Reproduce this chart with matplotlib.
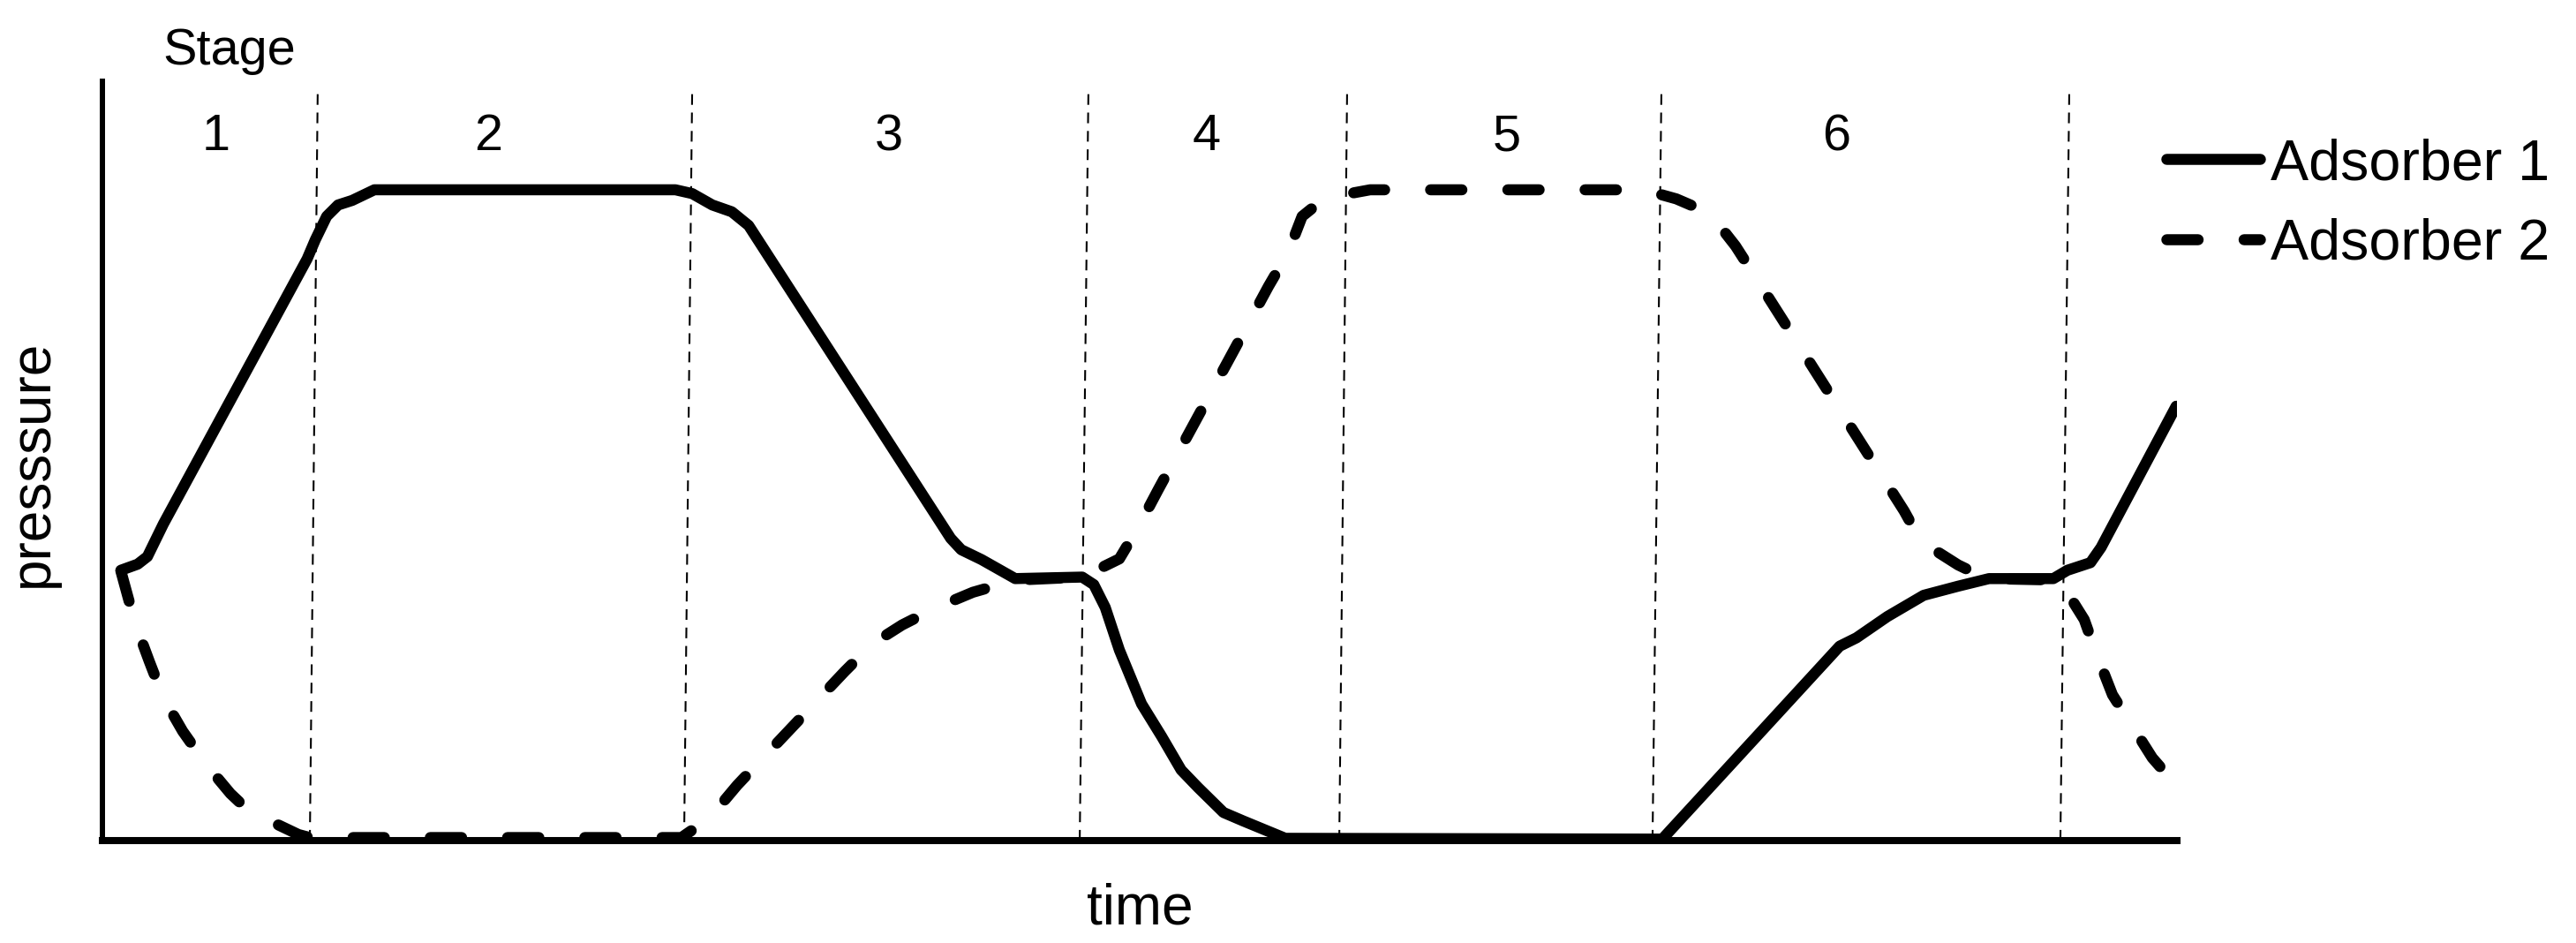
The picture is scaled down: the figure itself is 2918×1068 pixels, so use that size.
import matplotlib
matplotlib.use('Agg')
import matplotlib.pyplot as plt

plt.rcParams['font.family'] = ['Liberation Sans', 'DejaVu Sans']

# Pressure swing cycle, time and pressure in arbitrary units (0-100, 0-1)
time_ads1 = [0.89, 1.70, 2.17, 2.94, 9.87, 10.26, 10.81, 11.36, 12.04, 13.11,
             27.62, 28.43, 29.40, 30.34, 31.15, 40.89, 41.40, 42.38, 44.00, 47.23,
             47.79, 48.34, 49.02, 50.09, 51.06, 52.00, 52.81, 54.04, 54.98, 57.02,
             74.81, 75.19, 83.74, 84.55, 86.04, 87.79, 89.45, 90.94, 94.04, 94.72,
             95.83, 96.34, 99.96]
press_ads1 = [0.356, 0.364, 0.374, 0.417, 0.766, 0.791, 0.822, 0.837, 0.843, 0.857,
              0.857, 0.852, 0.837, 0.828, 0.810, 0.398, 0.383, 0.370, 0.345, 0.347,
              0.337, 0.307, 0.251, 0.180, 0.137, 0.093, 0.070, 0.037, 0.026, 0.003,
              0.002, 0.002, 0.256, 0.267, 0.295, 0.323, 0.335, 0.345, 0.345, 0.356,
              0.366, 0.386, 0.572]

time_ads2 = [0.89, 1.57, 2.26, 2.94, 3.87, 4.98, 6.17, 7.02, 7.53, 9.45,
             10.00, 27.91, 29.28, 30.60, 33.06, 35.79, 37.11, 38.55, 40.21, 41.96,
             44.00, 47.23, 49.02, 49.96, 50.89, 52.68, 54.43, 56.21, 57.15, 57.83,
             58.51, 59.32, 61.11, 74.30, 75.87, 77.49, 78.72, 79.66, 86.85, 87.66,
             89.45, 90.81, 94.34, 95.53, 96.09, 96.89, 97.70, 98.81, 99.96]
press_ads2 = [0.355, 0.287, 0.236, 0.188, 0.144, 0.101, 0.062, 0.040, 0.033, 0.008,
              0.004, 0.004, 0.030, 0.073, 0.144, 0.223, 0.259, 0.284, 0.307, 0.327,
              0.343, 0.347, 0.371, 0.414, 0.462, 0.552, 0.640, 0.730, 0.774, 0.822,
              0.837, 0.848, 0.857, 0.857, 0.845, 0.826, 0.783, 0.743, 0.434, 0.394,
              0.363, 0.345, 0.343, 0.291, 0.248, 0.192, 0.157, 0.109, 0.073]

# stage boundaries (slightly slanted in the original drawing)
bound_bottom = [10.00, 28.04, 47.11, 59.62, 74.72, 94.38]
bound_top = [10.38, 28.43, 47.53, 60.00, 75.15, 94.81]
bound_height = 0.991

stage_names = ['1', '2', '3', '4', '5', '6']
stage_x = [5.49, 18.6, 37.9, 53.2, 67.7, 83.6]

fig = plt.figure(figsize=(29.18, 10.68), dpi=100)
ax = fig.add_axes([0.03975, 0.1086, 0.80535, 0.8053])

for xb, xt in zip(bound_bottom, bound_top):
    ax.plot([xb, xt], [0, bound_height], color='black', lw=1.5,
            dashes=(5.8, 4.2), zorder=1)

ax.plot(time_ads1, press_ads1, color='black', lw=9,
        solid_joinstyle='round', solid_capstyle='round', label='Adsorber 1')
ax.plot(time_ads2, press_ads2, color='black', lw=9, dashes=(2.84, 4.16),
        dash_capstyle='round', dash_joinstyle='round', label='Adsorber 2')

ax.set_xlim(0, 100)
ax.set_ylim(0, 1)
ax.set_xticks([])
ax.set_yticks([])
ax.spines['top'].set_visible(False)
ax.spines['right'].set_visible(False)
ax.spines['left'].set_linewidth(4.3)
ax.spines['bottom'].set_linewidth(5.8)

for name, x in zip(stage_names, stage_x):
    ax.text(x, 0.909, name, ha='center', va='baseline', fontsize=41.5)
ax.text(6.13, 1.022, 'Stage', ha='center', va='baseline', fontsize=41.5,
        clip_on=False)

ax.set_xlabel('time', fontsize=46)
ax.xaxis.label.set_va('baseline')
ax.xaxis.set_label_coords(0.5, -0.1093)

fig.text(53.5 / 2918, 1 - 525 / 1068, 'presssure', rotation=90,
         rotation_mode='anchor', ha='center', va='baseline', fontsize=46)

ax.legend(loc='upper left', bbox_to_anchor=(2454 / 2918, 1 - 156 / 1068),
          bbox_transform=fig.transFigure, frameon=False, fontsize=46.5,
          handlelength=1.64, handletextpad=0.19, borderpad=0,
          borderaxespad=0, labelspacing=0.48)

fig.savefig('out.png', dpi=100)
